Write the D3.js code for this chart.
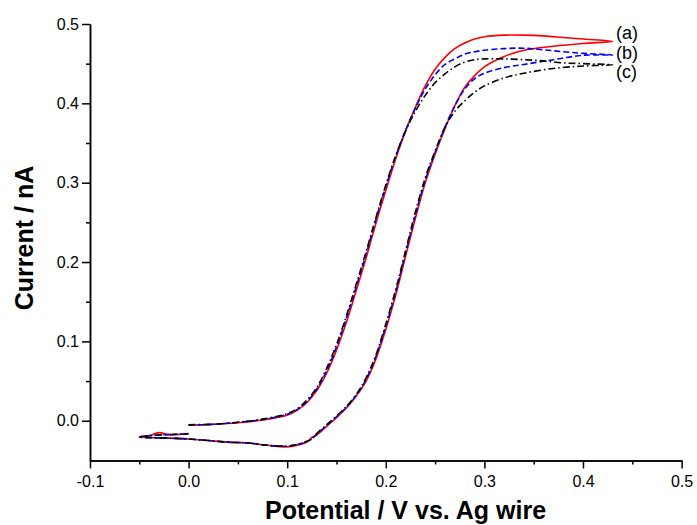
<!DOCTYPE html>
<html>
<head>
<meta charset="utf-8">
<script src="https://cdn.jsdelivr.net/npm/d3@7"></script>
<style>
  body { margin: 0; background: #fff; }
  text { font-family: "Liberation Sans", Arial, sans-serif; }
</style>
</head>
<body>
<div id="chart"></div>
<script>
// scan: 0 -> 0.43 V (forward), 0.43 -> -0.05 V (reverse), -0.05 -> 0 V
var potential = [
  0.0, 0.025, 0.05, 0.075, 0.10, 0.11, 0.12, 0.13, 0.14, 0.15, 0.16, 0.17, 0.18, 0.19,
  0.20, 0.21, 0.22, 0.23, 0.24, 0.25, 0.26, 0.27, 0.28, 0.29, 0.30, 0.32, 0.34, 0.36,
  0.38, 0.40, 0.43,
  0.40, 0.37, 0.34, 0.32, 0.30, 0.29, 0.28, 0.27, 0.26, 0.25, 0.24, 0.23, 0.22, 0.21,
  0.20, 0.19, 0.18, 0.17, 0.16, 0.15, 0.14, 0.13, 0.125, 0.12, 0.11, 0.10, 0.08, 0.06, 0.04,
  0.02, 0.0, -0.02, -0.05,
  -0.04, -0.03, -0.02, 0.0
];

var currentA = [
  -0.0055, -0.0045, -0.0025, 0.001, 0.007, 0.013, 0.023, 0.038, 0.060, 0.089, 0.124, 0.164, 0.205, 0.249,
  0.290, 0.330, 0.365, 0.395, 0.422, 0.443, 0.458, 0.469, 0.476, 0.481, 0.484, 0.486, 0.486, 0.485,
  0.483, 0.481, 0.478,
  0.4755, 0.472, 0.467, 0.459, 0.446, 0.435, 0.420, 0.397, 0.368, 0.336, 0.300, 0.255, 0.207, 0.158,
  0.115, 0.078, 0.050, 0.031, 0.016, 0.004, -0.007, -0.018, -0.021, -0.027, -0.031, -0.033, -0.031, -0.028, -0.027,
  -0.025, -0.023, -0.022, -0.0206,
  -0.019, -0.015, -0.0175, -0.016
];

var currentB = [
  -0.0055, -0.0045, -0.002, 0.0015, 0.008, 0.014, 0.024, 0.040, 0.063, 0.093, 0.129, 0.169, 0.210, 0.254,
  0.295, 0.333, 0.366, 0.394, 0.418, 0.436, 0.449, 0.456, 0.462, 0.465, 0.467, 0.469, 0.4695, 0.4675,
  0.465, 0.463, 0.461,
  0.4605, 0.455, 0.449, 0.445, 0.438, 0.431, 0.418, 0.397, 0.370, 0.338, 0.303, 0.259, 0.211, 0.162,
  0.119, 0.081, 0.052, 0.032, 0.017, 0.005, -0.006, -0.017, -0.023, -0.026, -0.030, -0.032, -0.031, -0.028, -0.027,
  -0.025, -0.023, -0.022, -0.0205,
  -0.019, -0.018, -0.0175, -0.0165
];

var currentC = [
  -0.005, -0.0045, -0.002, 0.002, 0.009, 0.015, 0.026, 0.042, 0.066, 0.096, 0.132, 0.172, 0.213, 0.256,
  0.297, 0.334, 0.365, 0.390, 0.410, 0.426, 0.437, 0.446, 0.452, 0.455, 0.456, 0.456, 0.455, 0.4535,
  0.451, 0.450, 0.4486,
  0.447, 0.444, 0.438, 0.432, 0.422, 0.414, 0.403, 0.390, 0.370, 0.340, 0.306, 0.263, 0.214, 0.165,
  0.122, 0.083, 0.054, 0.033, 0.018, 0.006, -0.005, -0.016, -0.023, -0.026, -0.030, -0.032, -0.031, -0.028, -0.027,
  -0.025, -0.023, -0.022, -0.0205,
  -0.019, -0.018, -0.0175, -0.0165
];

var seriesLabels = ["(a)", "(b)", "(c)"];
var xTicks = [-0.1, 0.0, 0.1, 0.2, 0.3, 0.4, 0.5];
var yTicks = [0.0, 0.1, 0.2, 0.3, 0.4, 0.5];

var width = 697, height = 525;
var margin = {top: 24, right: 15.4, bottom: 64.6, left: 90};

var svg = d3.select("#chart").append("svg")
    .attr("width", width)
    .attr("height", height);

var x = d3.scaleLinear().domain([-0.1, 0.5]).range([margin.left, width - margin.right]);
var y = d3.scaleLinear().domain([-0.05, 0.5]).range([height - margin.bottom, margin.top]);

// plain hyphen for negatives, like the original
var fmt = function(d) { return d3.format(".1f")(d).replace("\u2212", "-"); };

// curves
var line = d3.line()
    .x(function(d) { return x(d[0]); })
    .y(function(d) { return y(d[1]); })
    .curve(d3.curveCatmullRom.alpha(0.5));

var series = [
  {values: currentA, color: "#ff0000", dash: null},
  {values: currentB, color: "#0000ff", dash: "6,3"},
  {values: currentC, color: "#000000", dash: "7,3,1.5,3"}
];

series.forEach(function(s) {
  svg.append("path")
      .datum(d3.zip(potential, s.values))
      .attr("fill", "none")
      .attr("stroke", s.color)
      .attr("stroke-width", 1.6)
      .attr("stroke-dasharray", s.dash)
      .attr("d", line);
});

// axes
var xAxis = svg.append("g")
    .attr("transform", "translate(0," + y(-0.05) + ")")
    .call(d3.axisBottom(x).tickValues(xTicks).tickFormat(fmt).tickSize(8).tickSizeOuter(0));
svg.append("g")
    .attr("transform", "translate(0," + y(-0.05) + ")")
    .call(d3.axisBottom(x).tickValues(d3.range(-0.05, 0.5, 0.1)).tickFormat("").tickSize(4).tickSizeOuter(0));

var yAxis = svg.append("g")
    .attr("transform", "translate(" + margin.left + ",0)")
    .call(d3.axisLeft(y).tickValues(yTicks).tickFormat(fmt).tickSize(8).tickSizeOuter(0));
svg.append("g")
    .attr("transform", "translate(" + margin.left + ",0)")
    .call(d3.axisLeft(y).tickValues(d3.range(0.05, 0.5, 0.1)).tickFormat("").tickSize(4).tickSizeOuter(0));

svg.selectAll(".domain, .tick line").attr("stroke", "#000").attr("stroke-width", 1.5);
xAxis.attr("font-size", 16);
yAxis.attr("font-size", 16);
xAxis.selectAll("text").style("font-size", "16px").attr("fill", "#000").attr("y", 15);
yAxis.selectAll("text").style("font-size", "16px").attr("fill", "#000").attr("x", -11);

// titles
svg.append("text")
    .attr("x", 405.5)
    .attr("y", 519)
    .attr("text-anchor", "middle")
    .attr("font-size", 25)
    .attr("font-weight", "bold")
    .text("Potential / V vs. Ag wire");

svg.append("text")
    .attr("transform", "translate(33,238) rotate(-90)")
    .attr("text-anchor", "middle")
    .attr("font-size", 25)
    .attr("font-weight", "bold")
    .text("Current / nA");

// series labels
svg.selectAll(".lab")
  .data(seriesLabels)
  .enter().append("text")
    .attr("class", "lab")
    .attr("x", 616)
    .attr("y", function(d, i) { return 39 + i * 19.5; })
    .attr("font-size", 18)
    .text(function(d) { return d; });
</script>
</body>
</html>
